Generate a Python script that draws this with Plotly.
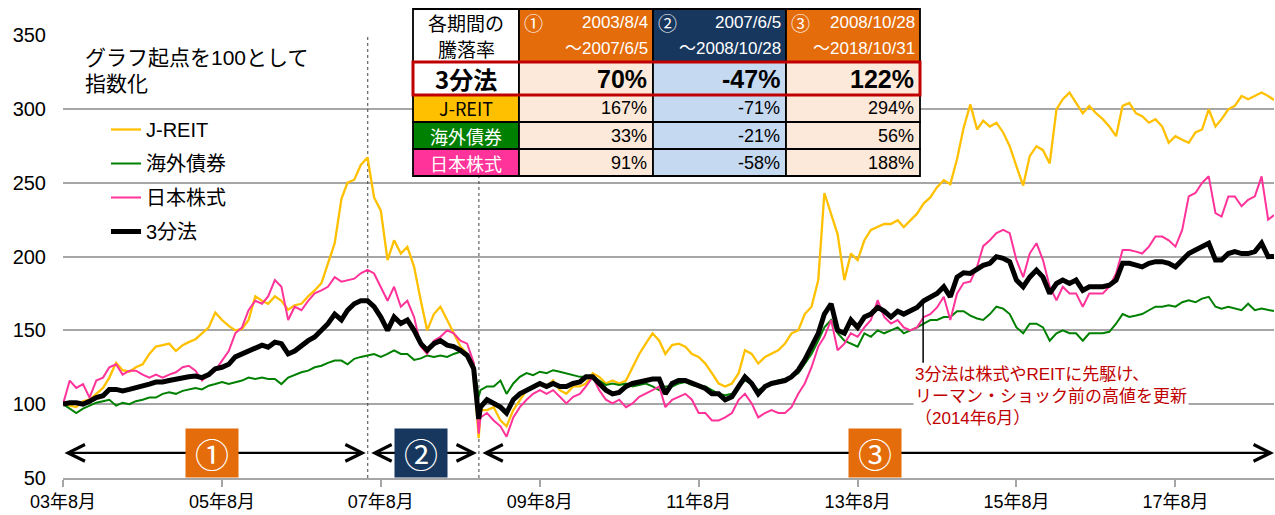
import pandas as pd
import plotly.graph_objects as go

# ---------------- data ----------------
dates = [
    "2003-08-04", "2003-09-04", "2003-10-04", "2003-11-04", "2003-12-04",
    "2004-01-04", "2004-02-04", "2004-03-04", "2004-04-04", "2004-05-04", "2004-06-04",
    "2004-07-04", "2004-08-04", "2004-09-04", "2004-10-04", "2004-11-04", "2004-12-04",
    "2005-01-04", "2005-02-04", "2005-03-04", "2005-04-04", "2005-05-04", "2005-06-04",
    "2005-07-04", "2005-08-04", "2005-09-04", "2005-10-04", "2005-11-04", "2005-12-04",
    "2006-01-04", "2006-02-04", "2006-03-04", "2006-04-04", "2006-05-04", "2006-06-04",
    "2006-07-04", "2006-08-04", "2006-09-04", "2006-10-04", "2006-11-04", "2006-12-04",
    "2007-01-04", "2007-02-04", "2007-03-04", "2007-04-04", "2007-05-04", "2007-06-04",
    "2007-07-04", "2007-08-04", "2007-09-04", "2007-10-04", "2007-11-04", "2007-12-04",
    "2008-01-04", "2008-02-04", "2008-03-04", "2008-04-04", "2008-05-04", "2008-06-04",
    "2008-07-04", "2008-08-04", "2008-09-04", "2008-10-04", "2008-10-27", "2008-11-04",
    "2008-12-04",
    "2009-01-04", "2009-02-04", "2009-03-04", "2009-04-04", "2009-05-04", "2009-06-04",
    "2009-07-04", "2009-08-04", "2009-09-04", "2009-10-04", "2009-11-04", "2009-12-04",
    "2010-01-04", "2010-02-04", "2010-03-04", "2010-04-04", "2010-05-04", "2010-06-04",
    "2010-07-04", "2010-08-04", "2010-09-04", "2010-10-04", "2010-11-04", "2010-12-04",
    "2011-01-04", "2011-02-04", "2011-03-04", "2011-04-04", "2011-05-04", "2011-06-04",
    "2011-07-04", "2011-08-04", "2011-09-04", "2011-10-04", "2011-11-04", "2011-12-04",
    "2012-01-04", "2012-02-04", "2012-03-04", "2012-04-04", "2012-05-04", "2012-06-04",
    "2012-07-04", "2012-08-04", "2012-09-04", "2012-10-04", "2012-11-04", "2012-12-04",
    "2013-01-04", "2013-02-04", "2013-03-04", "2013-04-04", "2013-05-04", "2013-06-04",
    "2013-07-04", "2013-08-04", "2013-09-04", "2013-10-04", "2013-11-04", "2013-12-04",
    "2014-01-04", "2014-02-04", "2014-03-04", "2014-04-04", "2014-05-04", "2014-06-04",
    "2014-07-04", "2014-08-04", "2014-09-04", "2014-10-04", "2014-11-04", "2014-12-04",
    "2015-01-04", "2015-02-04", "2015-03-04", "2015-04-04", "2015-05-04", "2015-06-04",
    "2015-07-04", "2015-08-04", "2015-09-04", "2015-10-04", "2015-11-04", "2015-12-04",
    "2016-01-04", "2016-02-04", "2016-03-04", "2016-04-04", "2016-05-04", "2016-06-04",
    "2016-07-04", "2016-08-04", "2016-09-04", "2016-10-04", "2016-11-04", "2016-12-04",
    "2017-01-04", "2017-02-04", "2017-03-04", "2017-04-04", "2017-05-04", "2017-06-04",
    "2017-07-04", "2017-08-04", "2017-09-04", "2017-10-04", "2017-11-04", "2017-12-04",
    "2018-01-04", "2018-02-04", "2018-03-04", "2018-04-04", "2018-05-04", "2018-06-04",
    "2018-07-04", "2018-08-04", "2018-09-04", "2018-10-04", "2018-10-31",
]

jreit = [
    100, 99, 98, 102, 103,
    107, 111, 118, 128, 123, 122, 125, 127, 134, 139, 140, 141,
    136, 140, 142, 144, 148, 152, 162, 157, 153, 150, 151, 157,
    173, 170, 168, 173, 170, 164, 167, 168, 173, 177, 182, 195,
    209, 239, 250, 252, 262, 267, 240, 231, 197.5, 211, 202, 206.5,
    193, 170, 150, 161, 166, 157, 148, 139, 134, 122, 77, 96, 96,
    98, 89, 85, 96, 103, 109.5, 112, 114, 112, 116, 109.5, 107,
    112, 112, 114, 121, 118.5, 114, 116, 114, 116, 125, 134, 141,
    148, 143, 134, 140, 141, 139, 134, 132, 127.5, 121, 114, 112,
    114, 121, 136.5, 134, 127.5, 132, 134, 136.5, 141, 148, 150, 161,
    166, 184, 243, 228, 215, 184, 202, 197.5, 211, 218, 220, 222,
    222, 224.6, 220, 224.6, 229, 236, 240, 247, 251.7, 249, 266, 287,
    303, 286, 292, 288, 290.6, 284, 274.7, 261, 248, 268, 274.7, 272,
    263, 299.7, 306.5, 311, 304, 297, 302, 297, 293, 288, 281.5, 302,
    304, 297, 295, 290.6, 293, 288, 277, 281.5, 279, 277, 284, 286,
    299.7, 288, 293, 299.7, 302, 308.7, 306.5, 308.7, 311, 308.7, 306,
]

bond = [
    100, 97, 94, 97, 99,
    101, 102, 103, 99, 101, 100, 102, 103, 104.5, 104.5, 107, 108,
    107, 109, 110, 111, 110, 112.5, 113.6, 115, 113.6, 115, 116, 118,
    117, 118, 117, 117, 113.6, 118, 120, 121.6, 122.7, 125, 126, 128,
    129.5, 129.5, 127, 130.7, 132, 133, 134, 132, 134, 136.5, 134, 134,
    130, 131, 133, 132, 133, 132, 134, 135.5, 132, 127.5, 105, 109.5, 112,
    112, 116, 107, 114, 118.5, 121, 119.6, 122, 121, 123, 122, 121,
    119.6, 118.5, 118.5, 118.5, 116, 113, 114, 113, 114, 112, 113, 114,
    112, 109.5, 112, 112, 114, 115, 113, 112, 112, 109.5, 107, 106,
    107, 112, 116, 114, 109.5, 112, 114, 116, 117, 118.5, 121, 127.5,
    134, 143, 152, 157, 148, 143, 141, 139, 148, 145.6, 150, 148,
    150, 152, 148, 150, 152, 154.6, 157, 157, 159, 159, 163, 163,
    160, 158, 157, 161, 166, 164.7, 161, 152, 148, 154.5, 154.5, 152,
    143, 148, 150, 148, 148, 143, 148, 148, 148, 149, 154.5, 161,
    159, 160, 161, 163.6, 166, 166, 167, 166, 169, 170.4, 169, 171.5,
    172.7, 166, 164.7, 166, 164.7, 163.6, 168, 163.6, 164.7, 163.6, 163,
]

stock = [
    100, 116, 111, 113.6, 104.5,
    116, 118, 125, 127, 120, 122.7, 122.7, 120, 118, 120, 118, 120,
    121.6, 125, 126, 122.7, 116, 120, 122.7, 129.5, 136, 148, 152, 163.6,
    170, 168, 173, 184, 179.5, 157, 166, 163.6, 170, 175, 177, 179.5,
    186, 183, 184, 185, 188.6, 191, 188.5, 179.5, 170, 179.5, 166, 170,
    159, 139, 134, 143, 145.6, 150, 148, 143, 141, 128, 80, 91, 94,
    89, 85, 78, 91, 98, 103, 107, 109.5, 107, 109.5, 105, 100.5,
    105, 107, 112, 118.5, 109.5, 103, 100.5, 103, 98, 100.5, 105, 107,
    109.5, 112, 98, 103, 105, 107, 103, 94, 94, 89, 89, 91,
    94, 103, 107, 100.5, 91, 94, 96, 94, 94, 98, 107, 114,
    125, 139, 145.6, 157, 136.5, 141, 148, 145.6, 152, 157, 170.4, 159,
    154.6, 157, 152, 150, 152, 159, 161, 165.5, 172.7, 157, 175, 182,
    183, 193, 207, 211, 215.8, 218, 215.8, 197.6, 186, 202, 209, 197.6,
    179.5, 170.4, 179.5, 175, 175, 166, 175, 175, 175, 179.5, 188.5, 204.4,
    204.4, 203.3, 202, 206.7, 213.5, 213.5, 211, 206.7, 218, 240.7, 243, 249.8,
    254.3, 229.4, 227, 240.7, 240.7, 234, 238.4, 240.7, 254.3, 225, 228,
]

sanbun = [
    100, 101, 101, 100, 102,
    104.5, 105.7, 110, 110, 109, 110, 111, 112.5, 113.6, 115, 115, 116,
    117, 118, 118.6, 119, 118, 120, 124, 125, 127, 132, 134, 136,
    138.6, 140, 138.6, 142, 141, 134, 136, 140, 143, 145.5, 150, 154.5,
    161, 157, 163.6, 168, 170, 170, 166, 159, 150, 159, 154.6, 157,
    150, 141, 136.5, 141, 143, 140, 139, 136.5, 133, 124, 90, 98, 103,
    100.5, 98, 94, 103, 107, 109.5, 112, 114, 112, 114, 112, 112,
    114, 115, 118.5, 118.5, 114, 109.5, 107, 108, 112, 114, 115, 116,
    117, 117, 107, 114, 116, 116, 114, 112, 110.6, 107, 107, 103,
    105, 112, 118.5, 114, 107, 112, 114, 115, 116, 118.5, 123, 130,
    138.4, 148, 161, 168, 150, 148, 157, 152, 159, 161, 165.5, 163,
    159, 163, 161, 163, 165.5, 170, 172.7, 175, 179.5, 172.7, 186, 189,
    188.5, 191, 194, 195.4, 199.9, 198.8, 196.5, 184, 179.5, 186, 190.8, 186,
    175, 181.7, 184, 181.7, 184, 177, 179.5, 179.5, 179.5, 180.6, 184, 195.4,
    195.4, 194.2, 193, 195.4, 196.5, 196.5, 195.4, 193, 197.6, 202, 204.4, 206.7,
    209, 197.6, 197.6, 202, 203.3, 202, 202, 203.3, 209, 199.9, 200,
]

series_names = ["J-REIT", "海外債券", "日本株式", "3分法"]

xtick_vals = ["2003-08-04", "2005-08-04", "2007-08-04", "2009-08-04",
              "2011-08-04", "2013-08-04", "2015-08-04", "2017-08-04"]
xtick_labels = ["03年8月", "05年8月", "07年8月", "09年8月",
                "11年8月", "13年8月", "15年8月", "17年8月"]
ytick_vals = [50, 100, 150, 200, 250, 300, 350]

period_starts = ["2003-08-04", "2007-06-05", "2008-10-28"]
period_ends = ["2007-06-05", "2008-10-28", "2018-10-31"]
period_marks = ["①", "②", "③"]
period_start_labels = ["2003/8/4", "2007/6/5", "2008/10/28"]
period_end_labels = ["2007/6/5", "2008/10/28", "2018/10/31"]

table_rows = ["3分法", "J-REIT", "海外債券", "日本株式"]
table_returns = [[70, -47, 122], [167, -71, 294], [33, -21, 56], [91, -58, 188]]

for s in (jreit, bond, stock, sanbun):
    assert len(s) == len(dates), (len(s), len(dates))

# ---------------- styles ----------------
series_colors = ["#FFC000", "#008000", "#FF3399", "#000000"]
series_widths = [2.3, 2, 2, 5]
period_colors = ["#E46C0A", "#17375E", "#E46C0A"]
period_body_fills = ["#FDE9D9", "#C5D9F1", "#FDE9D9"]
row_label_fills = ["white", "#FFC000", "#008000", "#FF3399"]
row_label_colors = ["black", "black", "white", "white"]
label_centers = ["2005-06-20", "2008-02-07", "2013-10-25"]

NUM = "Liberation Sans, Noto Sans CJK JP, sans-serif"
JP = "Noto Sans CJK JP, Liberation Sans, sans-serif"

L, R, T, B = 63, 1274, 35, 478


def px(x):
    return (x - L) / (R - L)


def py(y):
    return (B - y) / (B - T)


fig = go.Figure()
for name, vals, color, width in zip(series_names, [jreit, bond, stock, sanbun],
                                    series_colors, series_widths):
    fig.add_trace(go.Scatter(x=dates, y=vals, mode="lines", name=name,
                             legendgroup=name,
                             line=dict(color=color, width=width)))

shapes = []
annotations = []

# legend white background (hides gridline)
shapes.append(dict(type="rect", xref="paper", yref="paper", x0=px(85), x1=px(262),
                   y0=py(252), y1=py(113), fillcolor="white", line=dict(width=0),
                   layer="between"))

# period boundary dashed lines
for d in period_starts[1:]:
    shapes.append(dict(type="line", xref="x", yref="y", x0=d, x1=d, y0=50, y1=350,
                       line=dict(color="#404040", width=1, dash="3px,3px"),
                       layer="between"))

# pointer line for annotation
shapes.append(dict(type="line", xref="x", yref="y", x0="2014-06-01", x1="2014-06-01",
                   y0=128, y1=170, line=dict(color="black", width=1.5)))

# period arrows
gap = pd.Timedelta(days=9)
for s, e in zip(period_starts, period_ends):
    ts = pd.Timestamp(s) + (gap if s != dates[0] else pd.Timedelta(0))
    te = pd.Timestamp(e) - (gap if e != dates[-1] else pd.Timedelta(0))
    annotations.append(dict(x=te.strftime("%Y-%m-%d"), y=67,
                            ax=ts.strftime("%Y-%m-%d"), ay=67,
                            xref="x", yref="y", axref="x", ayref="y", text="",
                            showarrow=True, arrowhead=5, startarrowhead=5,
                            arrowside="end+start", arrowsize=1.5,
                            startarrowsize=1.5, arrowwidth=2.2,
                            arrowcolor="black", standoff=0, startstandoff=0))
for c, mark, col in zip(label_centers, period_marks, period_colors):
    annotations.append(dict(x=c, y=67, xref="x", yref="y", text=mark,
                            showarrow=False, bgcolor=col, width=52, height=48,
                            borderpad=0, align="center", valign="middle",
                            font=dict(family=JP, size=34, color="white")))

# table
col_x = [413, 519, 653, 786, 920]
row_y = [9, 62, 95, 122, 149, 176]
fills = [["white"] + period_colors]
for r in range(len(table_rows)):
    fills.append([row_label_fills[r]] + period_body_fills)
for r in range(len(fills)):
    for c in range(4):
        shapes.append(dict(type="rect", xref="paper", yref="paper",
                           x0=px(col_x[c]), x1=px(col_x[c + 1]),
                           y0=py(row_y[r + 1]), y1=py(row_y[r]),
                           fillcolor=fills[r][c],
                           line=dict(color="black", width=1.8), layer="above"))
shapes.append(dict(type="rect", xref="paper", yref="paper", x0=px(col_x[0]),
                   x1=px(col_x[4]), y0=py(row_y[2]), y1=py(row_y[1]),
                   fillcolor="rgba(0,0,0,0)",
                   line=dict(color="#C00000", width=3), layer="above"))


def txt(x, y, text, size, color="black", family=NUM, xanchor="center"):
    annotations.append(dict(x=px(x), y=py(y), xref="paper", yref="paper",
                            text=text, showarrow=False, xanchor=xanchor,
                            yanchor="middle",
                            font=dict(family=family, size=size, color=color)))


cx0 = (col_x[0] + col_x[1]) / 2
txt(cx0, 23, "各期間の", 19, family=JP)
txt(cx0, 48, "騰落率", 19, family=JP)
for c in range(3):
    txt(col_x[c + 1] + 3, 23, period_marks[c], 19, "white", JP, "left")
    txt(col_x[c + 2] - 3, 23, period_start_labels[c], 17, "white", NUM, "right")
    txt(col_x[c + 2] - 3, 48, "～" + period_end_labels[c], 17, "white", NUM, "right")
for r, name in enumerate(table_rows):
    yc = (row_y[r + 1] + row_y[r + 2]) / 2
    if r == 0:
        txt(cx0, yc, "<b>" + name + "</b>", 24, row_label_colors[r], JP)
    else:
        txt(cx0, yc, name, 18, row_label_colors[r], JP)
    for c in range(3):
        v = f"{table_returns[r][c]}%"
        if r == 0:
            txt(col_x[c + 2] - 4, yc, "<b>" + v + "</b>", 25, "black", NUM, "right")
        else:
            txt(col_x[c + 2] - 4, yc, v, 18, "black", NUM, "right")

# note at top-left
txt(83, 57, "グラフ起点を100として", 21, xanchor="left")
txt(83, 83, "指数化", 21, xanchor="left")

# red annotation
annotations.append(dict(x=px(913), y=py(363), xref="paper", yref="paper",
                        xanchor="left", yanchor="top", showarrow=False,
                        align="left", bgcolor="white", borderpad=1,
                        text="3分法は株式やREITに先駆け、<br>リーマン・ショック前の高値を更新<br>（2014年6月）",
                        font=dict(family=NUM, size=17, color="#C00000")))

fig.update_layout(
    width=1275, height=515,
    margin=dict(l=L, r=1275 - R, t=T, b=515 - B, autoexpand=False),
    plot_bgcolor="white", paper_bgcolor="white",
    font=dict(family=NUM, color="black"),
    showlegend=True,
    legend=dict(x=px(106), y=py(110), xanchor="left", yanchor="top",
                bgcolor="rgba(0,0,0,0)", borderwidth=0, tracegroupgap=5,
                font=dict(family=NUM, size=20, color="black")),
    xaxis=dict(type="date", range=[dates[0], dates[-1]], tickmode="array",
               tickvals=xtick_vals, ticktext=xtick_labels, ticks="outside",
               ticklen=7, tickcolor="#A6A6A6", tickwidth=1.5, showline=True,
               linecolor="#A6A6A6", linewidth=1.5, showgrid=False,
               automargin=False,
               tickfont=dict(family=NUM, size=18, color="black")),
    yaxis=dict(range=[50, 350], tickmode="array", tickvals=ytick_vals,
               showgrid=True, gridcolor="#A6A6A6", gridwidth=1.5,
               zeroline=False, showline=False, ticks="",
               ticklabelstandoff=16, automargin=False,
               tickfont=dict(family=NUM, size=20, color="black")),
    shapes=shapes,
    annotations=annotations,
)

fig.write_html("out.html", config={"displayModeBar": False},
               post_script="document.body.style.margin='0px';document.body.style.padding='0px';")
